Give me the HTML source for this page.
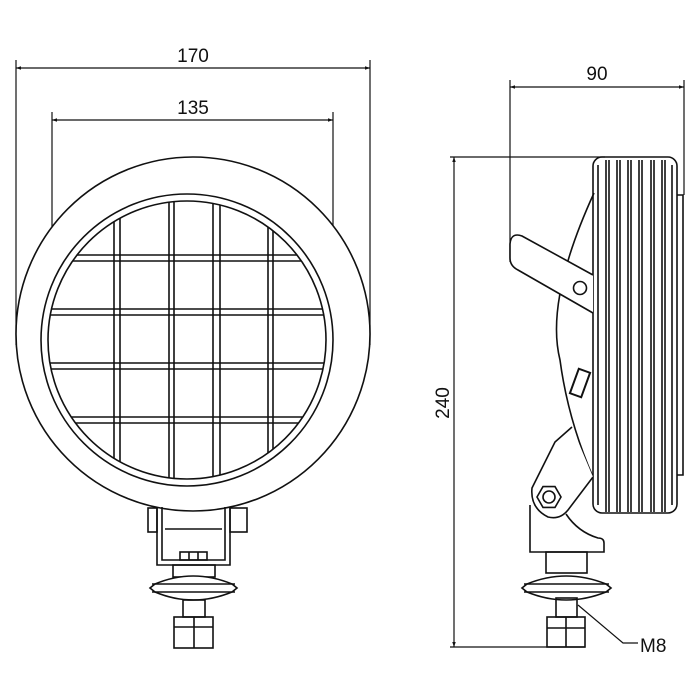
<!DOCTYPE html>
<html><head><meta charset="utf-8"><style>
html,body{margin:0;padding:0;background:#fff;}
svg{display:block;}
text{font-family:"Liberation Sans",sans-serif;fill:#111;}
</style></head><body>
<svg width="700" height="700" viewBox="0 0 700 700" xmlns="http://www.w3.org/2000/svg">
<defs>
<marker id="ar" viewBox="0 0 10 10" refX="10" refY="5" markerWidth="9" markerHeight="5" orient="auto-start-reverse" markerUnits="userSpaceOnUse">
<path d="M0,1.5 L10,5 L0,8.5 Z" fill="#111"/></marker>
<clipPath id="gc"><circle cx="187" cy="340" r="139"/></clipPath>
</defs>
<g fill="none" stroke="#111" stroke-width="1.6">
<!-- front view dims -->
<line x1="16" y1="68" x2="370" y2="68" marker-start="url(#ar)" marker-end="url(#ar)" stroke-width="1.2"/>
<line x1="16" y1="60" x2="16" y2="345" stroke-width="1.2"/>
<line x1="370" y1="60" x2="370" y2="345" stroke-width="1.2"/>
<line x1="52" y1="120" x2="333" y2="120" marker-start="url(#ar)" marker-end="url(#ar)" stroke-width="1.2"/>
<line x1="52" y1="112" x2="52" y2="300" stroke-width="1.2"/>
<line x1="333" y1="112" x2="333" y2="300" stroke-width="1.2"/>
<!-- outer ring -->
<circle cx="193" cy="334" r="177" fill="#fff"/>
<circle cx="187" cy="340" r="146"/>
<circle cx="187" cy="340" r="139"/>
<g clip-path="url(#gc)">
<path d="M114 190V490M120 190V490M169 190V490M174 190V490M213 190V490M220 190V490M268 190V490M273 190V490"/>
<path d="M40 255H335M40 261H335M40 309H335M40 315H335M40 363H335M40 369H335M40 417H335M40 423H335"/>
</g>
<!-- front bracket -->
<rect x="148" y="508" width="9" height="24"/>
<rect x="230" y="508" width="17" height="24"/>
<path d="M157 507V565H230V507"/>
<path d="M162 507V560H225V507"/>
<line x1="165" y1="529" x2="222" y2="529"/>
<rect x="180" y="552" width="27" height="8"/>
<line x1="189" y1="552" x2="189" y2="560"/><line x1="198" y1="552" x2="198" y2="560"/>
<rect x="173" y="565" width="42" height="12"/>
<path d="M155 584 Q193 568 232 584 L237 588 L232 592 Q193 608 155 592 L150 588 Z" fill="#fff"/>
<line x1="152" y1="584" x2="235" y2="584"/><line x1="152" y1="592" x2="235" y2="592"/>
<rect x="183" y="600" width="22" height="17"/>
<rect x="174" y="617" width="39" height="31"/>
<line x1="194" y1="617" x2="194" y2="648"/><line x1="174" y1="627" x2="213" y2="627"/>
<!-- side view dims -->
<line x1="510" y1="87" x2="684" y2="87" marker-start="url(#ar)" marker-end="url(#ar)" stroke-width="1.2"/>
<line x1="510" y1="80" x2="510" y2="262" stroke-width="1.2"/>
<line x1="684" y1="80" x2="684" y2="195" stroke-width="1.2"/>
<line x1="454" y1="157" x2="454" y2="647" marker-start="url(#ar)" marker-end="url(#ar)" stroke-width="1.2"/>
<line x1="450" y1="157" x2="605" y2="157" stroke-width="1.2"/>
<line x1="450" y1="647" x2="585" y2="647" stroke-width="1.2"/>
<!-- dome -->
<path d="M594 193 Q545 300 560 360 Q568 420 593 477"/>
<!-- body -->
<rect x="593" y="157" width="84" height="356" rx="9"/>
<path d="M677 195H683V475H677"/>
<path d="M598 165V505M606 160V512M609 160V512M617 160V512M620 160V512M628 160V512M631 160V512M639 160V512M642 160V512M651 160V512M654 160V512M662 160V512M665 160V512M672 165V505"/>
<!-- upper arm -->
<path d="M593 275 L522 236 Q511 232 510 244 L510 258 Q510 266 518 270 L593 313" fill="#fff"/>
<circle cx="580" cy="288" r="6.5"/>
<!-- switch -->
<g transform="translate(580,383) rotate(20)"><rect x="-6" y="-13" width="12" height="26" stroke-width="2"/></g>
<!-- lower bracket -->
<path d="M572 427 L555 442 L532 488 Q530 508 548 517 Q560 520 568 510 L593 477" fill="#fff"/>
<path d="M530 505 V552 H604 V543 Q604 538 598 538 Q578 532 566 514"/>
<polygon points="561,497 555,507.4 543,507.4 537,497 543,486.6 555,486.6"/>
<circle cx="549" cy="497" r="6"/>
<rect x="546" y="552" width="41" height="21"/>
<path d="M527 584 Q566 568 606 584 L611 588 L606 592 Q566 608 527 592 L522 588 Z" fill="#fff"/>
<line x1="524" y1="584" x2="609" y2="584"/><line x1="524" y1="592" x2="609" y2="592"/>
<rect x="556" y="598" width="21" height="19"/>
<rect x="547" y="617" width="38" height="30"/>
<line x1="566" y1="617" x2="566" y2="647"/><line x1="547" y1="628" x2="585" y2="628"/>
<path d="M578 605 L623 643 H638" stroke-width="1.2"/>
</g>
<text x="193" y="62" font-size="19" text-anchor="middle">170</text>
<text x="193" y="114" font-size="19" text-anchor="middle">135</text>
<text x="597" y="80" font-size="19" text-anchor="middle">90</text>
<text x="640" y="652" font-size="19">M8</text>
<text transform="translate(449,403) rotate(-90)" font-size="19" text-anchor="middle">240</text>
</svg>
</body></html>
